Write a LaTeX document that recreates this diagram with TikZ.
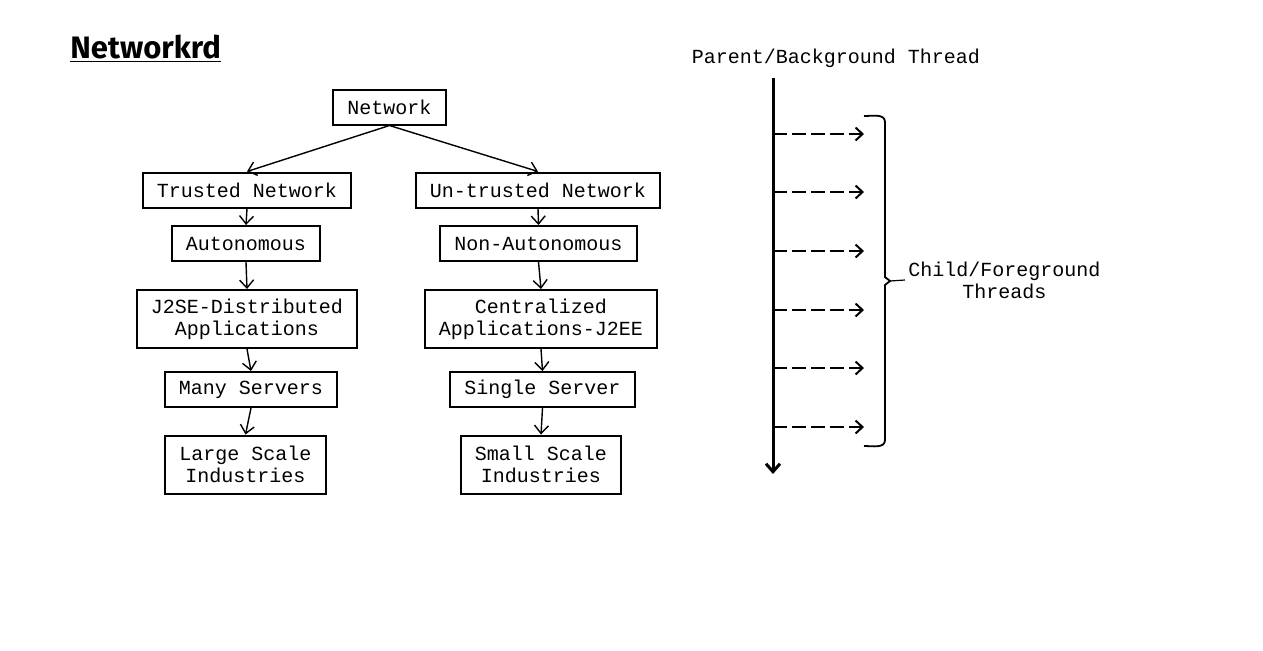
\documentclass[tikz,border=0pt]{standalone}
\usepackage{fontspec}
\setmainfont{Liberation Mono}
\newfontfamily\titlefont{Fira Sans}
\usetikzlibrary{arrows.meta}

\begin{document}
\begin{tikzpicture}[x=0.5pt, y=-0.5pt,
  box/.style={draw, line width=1pt, inner xsep=7pt, inner ysep=4pt,
    minimum height=17.5pt, align=center, font=\fontsize{10}{11}\selectfont},
  tallbox/.style={box, minimum height=29pt},
  link/.style={-{Straight Barb[length=4pt,width=7pt]}, line width=0.7pt},
  spawn/.style={-{Straight Barb[length=3.5pt,width=6.5pt]}, line width=1pt,
    dash pattern=on 7pt off 2.5pt},
  label/.style={font=\fontsize{10}{11}\selectfont, align=center}]

\useasboundingbox (0,0) rectangle (1263,650);

% Title
\node[anchor=west, inner sep=0pt, font=\titlefont\bfseries\fontsize{15.5}{17}\selectfont]
  (title) at (70,49) {\underline{Networkrd}};

% Network tree
\node[box] (net) at (389.5,107) {Network};
\node[box] (trust) at (247,190) {Trusted Network};
\node[box] (untrust) at (538,190) {Un-trusted Network};
\node[box] (auto) at (246,243.5) {Autonomous};
\node[box] (nonauto) at (538.5,243.5) {Non-Autonomous};
\node[tallbox] (j2se) at (247,319) {J2SE-Distributed\\Applications};
\node[tallbox] (j2ee) at (541,319) {Centralized\\Applications-J2EE};
\node[box] (many) at (251,389.5) {Many Servers};
\node[box] (single) at (542.5,389.5) {Single Server};
\node[tallbox] (large) at (245.5,464.5) {Large Scale\\Industries};
\node[tallbox] (small) at (541,464.5) {Small Scale\\Industries};

\draw[link] (net.south) -- (trust.north);
\draw[link] (net.south) -- (untrust.north);
\draw[link] (trust.south) -- (auto.north);
\draw[link] (untrust.south) -- (nonauto.north);
\draw[link] (auto.south) -- (j2se.north);
\draw[link] (nonauto.south) -- (j2ee.north);
\draw[link] (j2se.south) -- (many.north);
\draw[link] (j2ee.south) -- (single.north);
\draw[link] (many.south) -- (large.north);
\draw[link] (single.south) -- (small.north);

% Threads
\node[label] (parent) at (836,58) {Parent/Background Thread};
\coordinate (top) at (773,78);
\coordinate (bottom) at (773,474);
\draw[-{Straight Barb[length=4pt,width=7pt]}, line width=1.5pt] (top) -- (bottom);

\foreach \y [count=\i] in {134,192,251,310,368,427} {
  \coordinate (s\i) at (773,\y);
  \coordinate (e\i) at (864,\y);
  \draw[spawn] (s\i) -- (e\i);
}

% Brace
\node[label, anchor=west, inner xsep=1.5pt] (child) at (905,280) {Child/Foreground\\Threads};
\coordinate (tip) at (890,281);
\draw[line width=0.9pt] (864,116) to[out=0,in=90] (885,122) -- (885,277) -- (tip)
  -- (885,285) -- (885,440) to[out=-90,in=0] (864,446);
\draw[line width=0.6pt] (tip) -- (child.west);

\end{tikzpicture}
\end{document}
